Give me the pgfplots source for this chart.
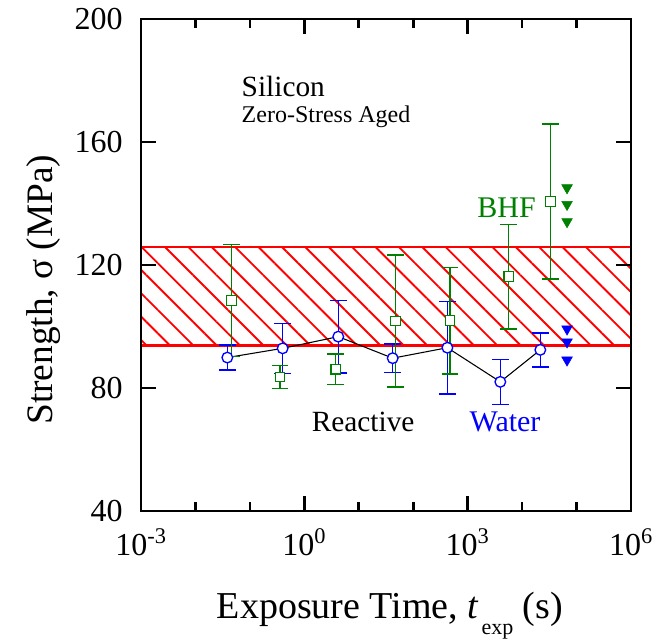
\documentclass[border=0pt]{standalone}
\usepackage{fontspec}
\setmainfont{Liberation Serif}
\usepackage{pgfplots}
\pgfplotsset{compat=1.18}
\usetikzlibrary{patterns.meta}
\definecolor{bhfgreen}{RGB}{0,128,0}
\definecolor{wblue}{RGB}{0,0,255}

\begin{document}
\begin{tikzpicture}
\begin{axis}[
  scale only axis,
  width=367.5pt, height=369pt,
  xmode=log,
  xmin=1e-3, xmax=1e6,
  ymin=40, ymax=200,
  xtick={1e-3,1,1e3,1e6},
  xticklabels={10\textsuperscript{-3},10\textsuperscript{0},10\textsuperscript{3},10\textsuperscript{6}},
  minor xtick={1e-2,1e-1,1e1,1e2,1e4,1e5},
  ytick={40,80,...,200},
  axis on top,
  axis line style={line width=2.2pt},
  every tick/.style={black, line width=2pt},
  major tick length=11pt,
  minor tick length=6.5pt,
  tick label style={font=\fontsize{24}{24}\selectfont, inner sep=0pt},
  x tick label style={anchor=base, yshift=-33.5pt},
  y tick label style={anchor=east, xshift=-13.5pt},
  /pgf/number format/assume math mode=true,
  xlabel={Exposure Time, \textit{t}\kern2pt\raisebox{-12pt}{\fontsize{16.5}{16.5}\selectfont exp} (s)},
  ylabel={Strength, σ (MPa)},
  xlabel style={at={(axis description cs:0.508,-0.2175)}, anchor=base, font=\fontsize{28.5}{28.5}\selectfont},
  ylabel style={at={(axis description cs:-0.198,0.45)}, anchor=center, font=\fontsize{28}{28}\selectfont},
]
\coordinate (O) at (rel axis cs:0,0);

% hatched band
\addplot[draw=none, pattern={Lines[angle=-45, distance=12.4pt, line width=1.4pt]}, pattern color=red]
  coordinates {(1e-3,93.8) (1e6,93.8) (1e6,125.9) (1e-3,125.9)} -- cycle;
\addplot[red, line width=1.8pt] coordinates {(1e-3,93.8) (1e6,93.8)};
\addplot[red, line width=1.8pt] coordinates {(1e-3,125.9) (1e6,125.9)};

% reactive line through the water points
\addplot[black, line width=0.8pt] coordinates {
  (0.0385,89.9) (0.40,92.9) (4.2,96.7) (42,89.7) (424,93.1) (3980,82.0) (21600,92.4)
};

% water
\addplot[wblue, only marks, mark=*, mark size=4pt, mark options={fill=white, line width=1pt},
  error bars/.cd, y dir=both, y explicit,
  error bar style={line width=1.1pt}, error mark options={line width=1.1pt, mark size=6.3pt, rotate=90}]
  coordinates {
  (0.0385,89.9) +- (0,4.1)
  (0.40,92.9) +- (0,8.1)
  (4.2,96.7) +- (0,11.8)
  (42,89.7) +- (0,4.6)
  (424,93.1) +- (0,15.0)
  (3980,82.0) +- (0,7.3)
  (21600,92.4) +- (0,5.5)
};

% BHF
\addplot[bhfgreen, only marks, mark=square*, mark size=3.6pt, mark options={fill=white, line width=0.9pt},
  error bars/.cd, y dir=both, y explicit,
  error bar style={line width=1pt}, error mark options={line width=1pt, mark size=6.3pt, rotate=90}]
  coordinates {
  (0.0463,108.4) +- (0,18.2)
  (0.357,83.6) +- (0,3.7)
  (3.77,86.1) +- (0,5.0)
  (46.9,101.8) +- (0,21.5)
  (474,101.9) +- (0,17.3)
  (5680,116.2) +- (0,17.0)
  (33000,140.7) +- (0,25.2)
};

% run-out markers
\addplot[bhfgreen, only marks, mark=triangle*, mark size=4.6pt, mark options={rotate=180}]
  coordinates {(66900,145.1) (66900,139.7) (66900,134.1)};
\addplot[wblue, only marks, mark=triangle*, mark size=4.6pt, mark options={rotate=180}]
  coordinates {(66900,99.2) (66900,95.0) (66900,89.1)};

\node[anchor=base west, font=\fontsize{22}{22}\selectfont] at (rel axis cs:0.196,0.8415) {Silicon};
\node[anchor=base west, font=\fontsize{18}{18}\selectfont] at (rel axis cs:0.196,0.789) {Zero-Stress Aged};
\node[anchor=base west, font=\fontsize{22.5}{22.5}\selectfont, text=bhfgreen] at (rel axis cs:0.677,0.597) {BHF};
\node[anchor=base west, font=\fontsize{22}{22}\selectfont] at (rel axis cs:0.339,0.1606) {Reactive};
\node[anchor=base west, font=\fontsize{22.5}{22.5}\selectfont, text=wblue] at (rel axis cs:0.661,0.1606) {Water};
\end{axis}
\path (O) ++(-105.75pt,-97.5pt) rectangle ++(500.25pt,480.75pt);
\end{tikzpicture}
\end{document}
